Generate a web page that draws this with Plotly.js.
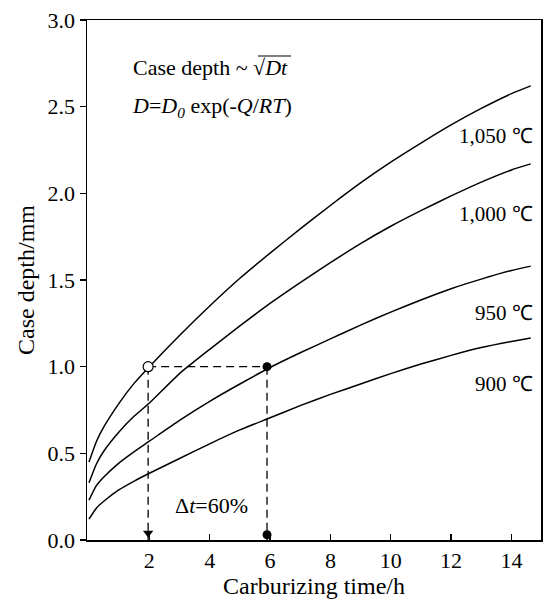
<!DOCTYPE html>
<html>
<head>
<meta charset="utf-8">
<script src="https://cdn.plot.ly/plotly-3.0.1.min.js"></script>
<style>html,body{margin:0;padding:0;background:#fff;}#chart{width:548px;height:602px;}</style>
</head>
<body>
<div id="chart"></div>
<script>
// Carburizing time (h)
const timeH = [0, 0.25, 0.5, 1, 1.5, 2, 3, 4, 5, 6, 7, 8, 9, 10, 11, 12, 13, 14, 14.64];
// Case depth (mm) for each temperature
const depth1050 = [0.45, 0.57, 0.655, 0.79, 0.905, 1.00, 1.18, 1.35, 1.51, 1.655, 1.795, 1.93, 2.06, 2.18, 2.29, 2.395, 2.49, 2.575, 2.62];
const depth1000 = [0.33, 0.44, 0.515, 0.625, 0.715, 0.79, 0.96, 1.10, 1.235, 1.365, 1.485, 1.60, 1.71, 1.81, 1.90, 1.985, 2.065, 2.135, 2.17];
const depth950  = [0.23, 0.315, 0.365, 0.445, 0.51, 0.57, 0.69, 0.80, 0.90, 0.995, 1.08, 1.16, 1.24, 1.315, 1.385, 1.45, 1.505, 1.555, 1.58];
const depth900  = [0.12, 0.185, 0.225, 0.29, 0.34, 0.385, 0.47, 0.555, 0.635, 0.705, 0.775, 0.84, 0.90, 0.96, 1.015, 1.065, 1.11, 1.145, 1.165];
const curveLabels = ["1,050 ℃", "1,000 ℃", "950 ℃", "900 ℃"];
const labelY = [2.33, 1.88, 1.31, 0.90];
// Reference points: open circle at 1050 ℃, filled dot at 950 ℃
const openPt = {x: [1.96], y: [1.0]};
const filledPt = {x: [5.9], y: [1.0]};
const bottomDot = {x: [5.9], y: [0.03]};
const arrowPt = {x: [1.96], y: [0.04]};
const hDash = {x: [1.96, 5.9], y: [1.0, 1.0]};
const vDash1 = {x: [1.96, 1.96], y: [1.0, 0.0]};
const vDash2 = {x: [5.9, 5.9], y: [1.0, 0.0]};
const xTicks = [2, 4, 6, 8, 10, 12, 14];
const yTicks = [0, 0.5, 1.0, 1.5, 2.0, 2.5, 3.0];

const FONT = "Liberation Serif, Times New Roman, serif";
const curveLine = {color: "black", width: 1.5, shape: "spline", smoothing: 0.6};
const dashLine = {color: "black", width: 1.3, dash: "8px,5px"};

const traces = [
  {x: timeH, y: depth1050, mode: "lines", line: curveLine},
  {x: timeH, y: depth1000, mode: "lines", line: curveLine},
  {x: timeH, y: depth950, mode: "lines", line: curveLine},
  {x: timeH, y: depth900, mode: "lines", line: curveLine},
  {x: hDash.x, y: hDash.y, mode: "lines", line: dashLine},
  {x: vDash1.x, y: vDash1.y, mode: "lines", line: dashLine},
  {x: vDash2.x, y: vDash2.y, mode: "lines", line: dashLine},
  {x: arrowPt.x, y: arrowPt.y, mode: "markers", marker: {symbol: "triangle-down", size: 9, color: "black"}, cliponaxis: false},
  {x: bottomDot.x, y: bottomDot.y, mode: "markers", marker: {symbol: "circle", size: 9, color: "black"}, cliponaxis: false},
  {x: filledPt.x, y: filledPt.y, mode: "markers", marker: {symbol: "circle", size: 9, color: "black"}},
  {x: openPt.x, y: openPt.y, mode: "markers", marker: {symbol: "circle", size: 10, color: "white", line: {color: "black", width: 1.2}}}
];

const annotations = curveLabels.map((t, i) => ({
  x: 14.78, y: labelY[i], xref: "x", yref: "y", text: t, showarrow: false,
  xanchor: "right", yanchor: "middle", font: {family: FONT, size: 21, color: "black"}
}));
annotations.push(
  {x: 4.06, y: 0.20, xref: "x", yref: "y", text: "Δ<i>t</i>=60%", showarrow: false,
   xanchor: "center", yanchor: "middle", font: {family: FONT, size: 22, color: "black"}},
  {x: 0.097, y: 0.909, xref: "paper", yref: "paper", text: "Case depth ~ √<i>Dt</i>", showarrow: false,
   xanchor: "left", yanchor: "middle", font: {family: FONT, size: 22, color: "black"}},
  {x: 0.095, y: 0.833, xref: "paper", yref: "paper",
   text: "<i>D</i>=<i>D</i><sub><i>0</i></sub> exp(-<i>Q</i>/<i>RT</i>)", showarrow: false,
   xanchor: "left", yanchor: "middle", font: {family: FONT, size: 22, color: "black"}}
);

const layout = {
  width: 548, height: 602,
  margin: {l: 87, r: 7, t: 20, b: 62},
  paper_bgcolor: "white", plot_bgcolor: "white",
  showlegend: false,
  font: {family: FONT, size: 22, color: "black"},
  xaxis: {
    range: [-0.066, 14.98], tickvals: xTicks, ticktext: xTicks.map(String),
    ticks: "inside", ticklen: 6, tickwidth: 1.5, tickcolor: "black",
    showline: true, mirror: true, linecolor: "black", linewidth: 1.5,
    showgrid: false, zeroline: false,
    tickfont: {family: FONT, size: 22, color: "black"},
    title: {text: "Carburizing time/h", font: {family: FONT, size: 24, color: "black"}, standoff: 0}
  },
  yaxis: {
    range: [0, 3], tickvals: yTicks, tickformat: ".1f",
    ticks: "outside", ticklen: 6, tickwidth: 1.5, tickcolor: "black",
    showline: true, mirror: true, linecolor: "black", linewidth: 1.5,
    showgrid: false, zeroline: false,
    tickfont: {family: FONT, size: 22, color: "black"},
    title: {text: "Case depth/mm", font: {family: FONT, size: 24, color: "black"}, standoff: 6}
  },
  annotations: annotations,
  shapes: [
    {type: "line", xref: "paper", yref: "paper", x0: (258 - 87) / 454, x1: (291 - 87) / 454,
     y0: (540 - 56) / 520, y1: (540 - 56) / 520, line: {color: "black", width: 1.2}}
  ]
};

Plotly.newPlot("chart", traces, layout, {displayModeBar: false, staticPlot: true});
</script>
</body>
</html>
